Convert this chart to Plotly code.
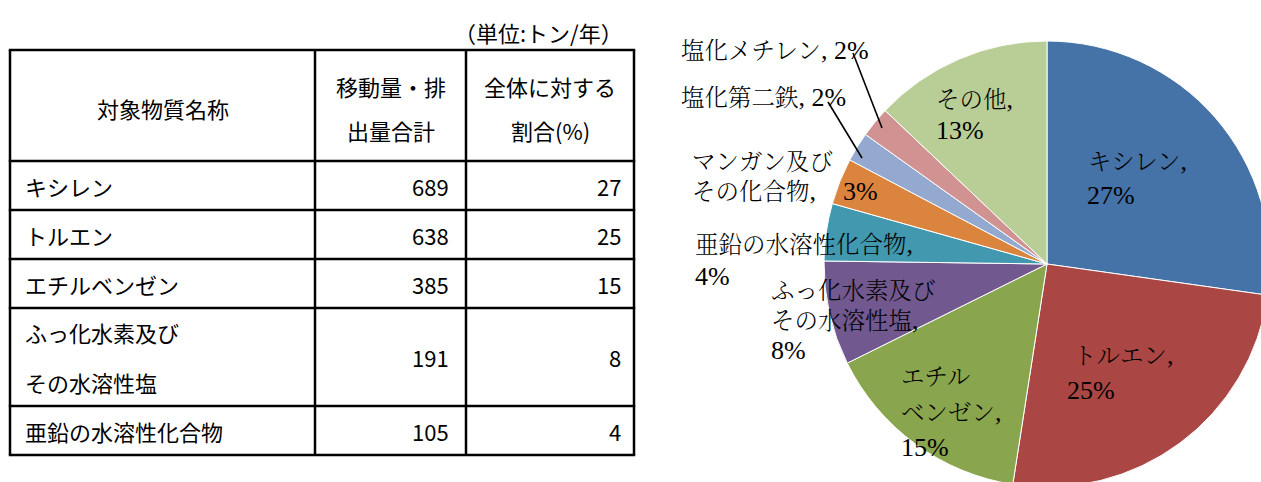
import plotly.graph_objects as go

# ---------------- data ----------------
substances = ["キシレン", "トルエン", "エチルベンゼン", "ふっ化水素及びその水溶性塩",
              "亜鉛の水溶性化合物", "マンガン及びその化合物", "塩化第二鉄", "塩化メチレン", "その他"]
amounts = [689, 638, 385, 191, 105, 85, 54, 56, 327]   # t/year (last four estimated from the pie)
slice_colors = ["#4572A7", "#AA4643", "#89A54E", "#71588F", "#4198AF",
                "#DB843D", "#93A9CF", "#D19392", "#B9CD96"]

table_count = 5                                   # the table lists the top five substances
header_name = ["対象物質名称"]
header_amount = ["移動量・排", "出量合計"]
header_share = ["全体に対する", "割合(%)"]
unit_note = "（単位:トン/年）"
table_wrap = {"ふっ化水素及びその水溶性塩": 7}      # wrap position of long names in the table

total = sum(amounts)
pcts = [round(v / total * 100) for v in amounts]

# ---------------- layout helpers (pixel space) ----------------
W, H = 1300, 520
TFONT = "Noto Sans CJK JP, Noto Sans, sans-serif"
PFONT = "Liberation Serif, Noto Serif CJK JP, Noto Sans CJK JP, serif"
TSIZE = 22
PSIZE = 23.5
LATIN = 26

fig = go.Figure()
fig.add_trace(go.Scatter(x=[], y=[], showlegend=False, hoverinfo="skip"))

# ---------------- pie ----------------
cx, cy, r = 1047, 264, 223
fig.add_trace(go.Pie(
    labels=substances, values=amounts, sort=False, direction="clockwise", rotation=0,
    marker=dict(colors=slice_colors, line=dict(color="white", width=1)),
    textinfo="none", hoverinfo="label+percent", showlegend=False,
    domain=dict(x=[(cx - r) / W, (cx + r) / W], y=[1 - (cy + r) / H, 1 - (cy - r) / H]),
))

annotations = []
shapes = []


def txt(x, y, s, anchor="left", font=TFONT, size=TSIZE, weight=None):
    f = dict(family=font, size=size, color="black")
    if weight:
        f["weight"] = weight
    annotations.append(dict(x=x, y=y, xref="x", yref="y", text=s, showarrow=False,
                            xanchor=anchor, yanchor="middle", font=f, borderpad=0))


def hline(x0, x1, y, w=2.5):
    shapes.append(dict(type="line", xref="x", yref="y", x0=x0, x1=x1, y0=y, y1=y,
                       line=dict(color="black", width=w)))


def vline(x, y0, y1, w=2.5):
    shapes.append(dict(type="line", xref="x", yref="y", x0=x, x1=x, y0=y0, y1=y1,
                       line=dict(color="black", width=w)))


def lat(s):
    return f'<span style="font-size:{LATIN}px">{s}</span>'


# ---------------- table ----------------
col_edges = [10, 315, 466, 634]
top, header_h, line_h = 50, 111, 49
rows = []
for name in substances[:table_count]:
    if name in table_wrap:
        k = table_wrap[name]
        rows.append([name[:k], name[k:]])
    else:
        rows.append([name])

row_edges = [top, top + header_h]
for lines in rows:
    row_edges.append(row_edges[-1] + line_h * len(lines))

for y in row_edges:
    hline(col_edges[0] - 1.2, col_edges[-1] + 1.2, y)
for x in col_edges:
    vline(x, row_edges[0], row_edges[-1])

txt(col_edges[-1] - 10, 32, unit_note, anchor="right")

hmid = (row_edges[0] + row_edges[1]) / 2
for c, lines in enumerate([header_name, header_amount, header_share]):
    xc = (col_edges[c] + col_edges[c + 1]) / 2
    n = len(lines)
    for i, s in enumerate(lines):
        yy = hmid + 2.5 + (i - (n - 1) / 2) * 44
        txt(xc, yy, s, anchor="center")

for i, lines in enumerate(rows):
    mid = (row_edges[i + 1] + row_edges[i + 2]) / 2
    n = len(lines)
    for j, s in enumerate(lines):
        txt(col_edges[0] + 14, mid + (j - (n - 1) / 2) * 50, s)
    txt(col_edges[2] - 16, mid, str(amounts[i]), anchor="right")
    txt(col_edges[3] - 12, mid, str(pcts[i]), anchor="right")

# ---------------- pie labels ----------------
n_ = substances
p_ = [lat(f"{p}%") for p in pcts]
cm = lat(",")
label_pieces = [
    [(1087, 161, n_[0] + cm), (1086, 195, p_[0])],
    [(1072, 355, n_[1] + cm), (1066, 390, p_[1])],
    [(900, 377, n_[2][:3]), (900, 412, n_[2][3:] + cm), (900, 447, p_[2])],
    [(770, 291, n_[3][:7]), (770, 320, n_[3][7:] + cm), (770, 350, p_[3])],
    [(694, 244, n_[4] + cm), (694, 276, p_[4])],
    [(691, 162, n_[5][:6]), (691, 191, n_[5][6:] + cm), (842, 191, p_[5])],
    [(680, 97, n_[6] + lat(", ") + p_[6])],
    [(680, 50, n_[7] + lat(", ") + p_[7])],
    [(935, 99, n_[8] + cm), (935, 130, p_[8])],
]
for pieces in label_pieces:
    for (x, y, s) in pieces:
        txt(x, y, s, font=PFONT, size=PSIZE, weight=300)

# leader lines for the two small slices
for (x0, y0, x1, y1) in [(853, 53, 882, 128), (828, 102, 862, 158)]:
    shapes.append(dict(type="line", xref="x", yref="y", x0=x0, y0=y0, x1=x1, y1=y1,
                       line=dict(color="black", width=1.6)))

fig.update_layout(
    width=W, height=H, margin=dict(l=0, r=0, t=0, b=0),
    paper_bgcolor="white", plot_bgcolor="rgba(0,0,0,0)",
    xaxis=dict(range=[0, W], domain=[0, 1], visible=False, fixedrange=True),
    yaxis=dict(range=[H, 0], domain=[0, 1], visible=False, fixedrange=True),
    annotations=annotations, shapes=shapes, showlegend=False,
)

fig.write_html("out.html", config={"displayModeBar": False},
               post_script="document.documentElement.style.overflow='hidden';"
                           "document.body.style.overflow='hidden';")
